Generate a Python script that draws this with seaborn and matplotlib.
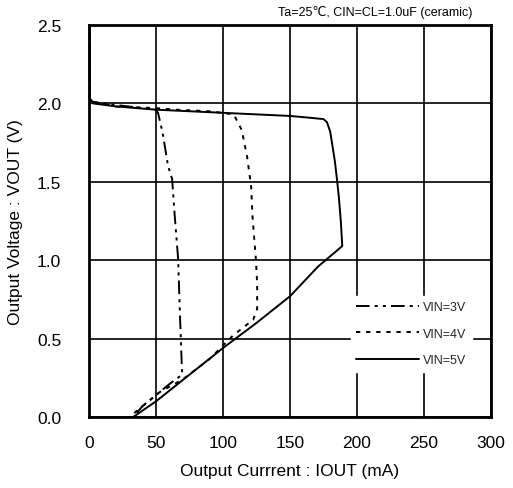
import matplotlib
matplotlib.use("Agg")
import matplotlib.pyplot as plt
import seaborn as sns
import pandas as pd

# Output voltage vs. output current (foldback current limit) for three input voltages
series_labels = ["VIN=3V", "VIN=4V", "VIN=5V"]

iout_3v = [0.5, 0.5, 3, 20, 40, 50, 51.5, 55, 59, 62, 64, 66.5, 68, 69.5, 60, 50, 40, 33]
vout_3v = [2.5, 2.03, 2.01, 1.99, 1.97, 1.96, 1.94, 1.81, 1.60, 1.52, 1.28, 1.01, 0.62, 0.27, 0.21, 0.14, 0.07, 0.0]

iout_4v = [0.5, 0.5, 3, 20, 50, 65, 90, 108, 114, 118, 121, 122, 124.5, 125.5, 125.5, 122.5, 107.5, 90, 70, 53, 33]
vout_4v = [2.5, 2.03, 2.01, 1.98, 1.97, 1.96, 1.95, 1.93, 1.83, 1.66, 1.47, 1.28, 1.01, 0.85, 0.69, 0.62, 0.52, 0.37, 0.24, 0.16, 0.02]

iout_5v = [0.5, 0.5, 3, 21, 50, 100, 150, 163, 175, 177.6, 180, 181.5, 183.5, 185, 186.5, 188, 189, 171, 150, 125, 100, 75, 50, 33]
vout_5v = [2.5, 2.03, 2.0, 1.98, 1.96, 1.94, 1.92, 1.91, 1.90, 1.88, 1.82, 1.74, 1.63, 1.52, 1.40, 1.24, 1.09, 0.96, 0.77, 0.60, 0.44, 0.27, 0.10, 0.0]

x_ticks = [0, 50, 100, 150, 200, 250, 300]
y_ticks = [0.0, 0.5, 1.0, 1.5, 2.0, 2.5]

frames = []
for label, xs, ys in zip(series_labels, [iout_3v, iout_4v, iout_5v], [vout_3v, vout_4v, vout_5v]):
    frames.append(pd.DataFrame({"IOUT": xs, "VOUT": ys, "VIN": label}))
df = pd.concat(frames, ignore_index=True)

sns.set_theme(style="white")
plt.rcParams["font.family"] = ["Liberation Sans", "DejaVu Sans"]

fig = plt.figure(figsize=(5.13, 4.89), dpi=100)
ax = fig.add_axes([0.1735, 0.1452, 0.7836, 0.8016])

dash_styles = {
    "VIN=3V": (7.0, 2.6, 1.6, 2.6, 1.6, 2.6),
    "VIN=4V": (2.2, 3.0),
    "VIN=5V": "",
}

sns.lineplot(
    data=df, x="IOUT", y="VOUT", hue="VIN", style="VIN",
    palette=["black"] * 3, dashes=dash_styles, sort=False, estimator=None,
    units="VIN", linewidth=1.4, ax=ax, legend=True,
)
# thicker solid curve, drawn above the frame
for line in ax.lines:
    if line.get_label() == "VIN=5V":
        line.set_linewidth(1.8)
    line.set_clip_on(False)
    line.set_zorder(3)

ax.set_xlim(0, 300)
ax.set_ylim(0, 2.5)
ax.set_xticks(x_ticks)
ax.set_yticks(y_ticks)
ax.set_xticklabels([f"{t:d}" for t in x_ticks], fontsize=12.5)
ax.set_yticklabels([f"{t:.1f}" for t in y_ticks], fontsize=12.5)
ax.tick_params(axis="both", length=0, pad=13, colors="black")
ax.tick_params(axis="y", pad=20)
ax.grid(True, color="black", linewidth=1.2)
ax.set_axisbelow(True)
for s in ax.spines.values():
    s.set_color("black")
    s.set_linewidth(2.0)

ax.set_xlabel("Output Currrent : IOUT (mA)", fontsize=12.5, labelpad=9, color="black")
ax.set_ylabel("Output Voltage : VOUT (V)", fontsize=12.5, labelpad=10, color="black")

fig.text(0.92, 0.975, "Ta=25\u2103, CIN=CL=1.0uF (ceramic)", ha="right", va="center",
         fontsize=9, color="black")

handles, labels = ax.get_legend_handles_labels()
leg = ax.legend(handles, labels, loc="upper left", bbox_to_anchor=(0.635, 0.325),
                frameon=True, fancybox=False, framealpha=1.0, edgecolor="white",
                facecolor="white", fontsize=9, handlelength=5.0, handletextpad=0.35,
                labelspacing=1.15, borderpad=0.45, title=None)
leg.set_zorder(4)
for h in leg.get_lines():
    h.set_linewidth(1.4)

fig.savefig("out.png", dpi=100, facecolor="white")
